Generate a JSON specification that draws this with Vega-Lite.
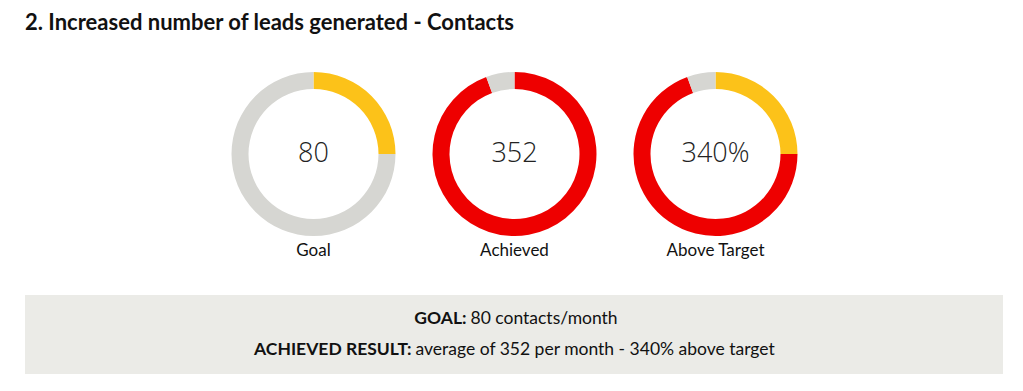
{
  "$schema": "https://vega.github.io/schema/vega-lite/v6.json",
  "padding": {"left": 25, "right": 20, "top": 12, "bottom": 0},
  "background": "#ffffff",
  "title": {"text": "2. Increased number of leads generated - Contacts", "anchor": "start", "frame": "group", "font": "Lato", "fontSize": 22, "fontWeight": "bold", "color": "#111111", "offset": 14},
  "config": {"view": {"stroke": null}},
  "datasets": {
    "arcs": [
      {"chart": "Goal", "part": "target", "start": 0, "end": 0.25},
      {"chart": "Goal", "part": "rest", "start": 0.25, "end": 1},
      {"chart": "Achieved", "part": "actual", "start": 0, "end": 0.944},
      {"chart": "Achieved", "part": "rest", "start": 0.944, "end": 1},
      {"chart": "Above Target", "part": "target", "start": 0, "end": 0.25},
      {"chart": "Above Target", "part": "actual", "start": 0.25, "end": 0.944},
      {"chart": "Above Target", "part": "rest", "start": 0.944, "end": 1}
    ],
    "labels": [
      {"chart": "Goal", "value": "80"},
      {"chart": "Achieved", "value": "352"},
      {"chart": "Above Target", "value": "340%"}
    ],
    "notes": [
      {"line": 1, "head": "GOAL:", "body": "80 contacts/month"},
      {"line": 2, "head": "ACHIEVED RESULT:", "body": "average of 352 per month - 340% above target"}
    ]
  },
  "vconcat": [
    {
      "width": 978,
      "height": 210,
      "encoding": {
        "x": {"field": "chart", "type": "nominal", "scale": {"type": "point", "domain": ["Goal", "Achieved", "Above Target"], "range": [288.5, 690.5], "padding": 0}, "axis": null}
      },
      "layer": [
        {
          "data": {"name": "arcs"},
          "mark": {"type": "arc", "outerRadius": 82, "innerRadius": 65},
          "encoding": {
            "theta": {"field": "start", "type": "quantitative", "scale": {"domain": [0, 1], "range": [0, 6.283185307]}},
            "theta2": {"field": "end"},
            "color": {"field": "part", "type": "nominal", "scale": {"domain": ["target", "actual", "rest"], "range": ["#fcc219", "#ee0000", "#d6d6d2"]}, "legend": null}
          }
        },
        {
          "data": {"name": "labels"},
          "mark": {"type": "text", "font": "Open Sans", "fontWeight": 300, "fontSize": 27, "color": "#222222", "baseline": "middle"},
          "encoding": {"text": {"field": "value"}}
        },
        {
          "data": {"name": "labels"},
          "mark": {"type": "text", "font": "Lato", "fontSize": 17, "color": "#111111", "baseline": "middle", "dy": 97},
          "encoding": {"text": {"field": "chart"}}
        }
      ]
    },
    {
      "width": 978,
      "height": 79,
      "view": {"fill": "#ebebe7", "stroke": null},
      "data": {"name": "notes"},
      "encoding": {
        "y": {"field": "line", "type": "ordinal", "scale": {"type": "point", "padding": 0.75}, "axis": null}
      },
      "layer": [
        {"transform": [{"filter": "datum.line == 1"}], "mark": {"type": "text", "font": "Lato", "fontWeight": "bold", "fontSize": 17.5, "align": "right", "baseline": "middle", "dx": -47.5, "color": "#111111"}, "encoding": {"text": {"field": "head"}}},
        {"transform": [{"filter": "datum.line == 1"}], "mark": {"type": "text", "font": "Lato", "fontSize": 17.5, "align": "left", "baseline": "middle", "dx": -43.5, "color": "#111111"}, "encoding": {"text": {"field": "body"}}},
        {"transform": [{"filter": "datum.line == 2"}], "mark": {"type": "text", "font": "Lato", "fontWeight": "bold", "fontSize": 17.5, "align": "right", "baseline": "middle", "dx": -102.5, "color": "#111111"}, "encoding": {"text": {"field": "head"}}},
        {"transform": [{"filter": "datum.line == 2"}], "mark": {"type": "text", "font": "Lato", "fontSize": 17.5, "align": "left", "baseline": "middle", "dx": -98.5, "color": "#111111"}, "encoding": {"text": {"field": "body"}}}
      ]
    }
  ],
  "spacing": 36
}
